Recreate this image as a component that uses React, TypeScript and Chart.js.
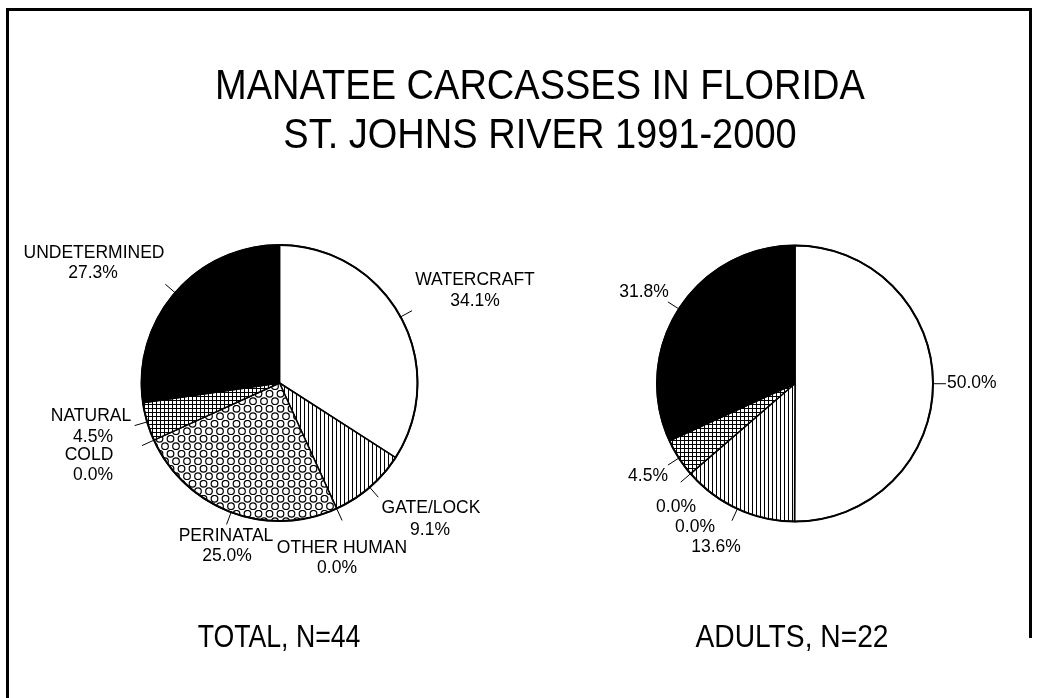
import React, { useEffect, useRef } from 'react';
import { Chart, registerables } from 'chart.js';

Chart.register(...registerables);

const W = 1039;
const H = 698;

const categories = ['WATERCRAFT', 'GATE/LOCK', 'OTHER HUMAN', 'PERINATAL', 'COLD', 'NATURAL', 'UNDETERMINED'];
const totalValues = [34.1, 9.1, 0.0, 25.0, 0.0, 4.5, 27.3];
const adultValues = [50.0, 13.6, 0.0, 0.0, 0.0, 4.5, 31.8];
const titleLines = ['MANATEE CARCASSES IN FLORIDA', 'ST. JOHNS RIVER 1991-2000'];
const totalCaption = 'TOTAL, N=44';
const adultCaption = 'ADULTS, N=22';

// layout (positions, not data)
const LEFT_PIE = { cx: 279.5, cy: 383, r: 138 };
const RIGHT_PIE = { cx: 795, cy: 383.5, r: 138 };
const FONT = '"Liberation Sans", Arial, Helvetica, sans-serif';

// label anchor positions per category index: [centerX, baseline]
const leftLabelPos: Record<number, [number, number]> = {
  0: [475, 285],
  1: [431, 513],
  2: [342, 553],
  3: [226, 541],
  4: [89, 460],
  5: [91, 421],
  6: [94, 258],
};
const leftPctPos: Record<number, [number, number]> = {
  0: [475, 306],
  1: [430, 535],
  2: [337, 573],
  3: [227, 561],
  4: [93, 480],
  5: [93, 442],
  6: [93, 278],
};
const rightPctPos: Record<number, [number, number, CanvasTextAlign]> = {
  0: [947, 388, 'left'],
  1: [716, 552, 'center'],
  3: [695, 532, 'center'],
  4: [676, 512, 'center'],
  5: [648, 481, 'center'],
  6: [644, 297, 'center'],
};
const leftLeaders = [0, 1, 2, 3, 4, 5, 6];
const rightLeaders = [0, 1, 4, 5, 6];

function makePattern(kind: string): CanvasPattern | string {
  const c = document.createElement('canvas');
  const g = c.getContext('2d')!;
  if (kind === 'vlines') {
    c.width = 4; c.height = 4;
    g.fillStyle = '#fff'; g.fillRect(0, 0, 4, 4);
    g.fillStyle = '#000'; g.fillRect(0, 0, 1, 4);
  } else if (kind === 'grid') {
    c.width = 4; c.height = 4;
    g.fillStyle = '#fff'; g.fillRect(0, 0, 4, 4);
    g.fillStyle = '#000'; g.fillRect(0, 0, 1, 4); g.fillRect(0, 0, 4, 1);
  } else if (kind === 'circles') {
    c.width = 11; c.height = 15;
    g.fillStyle = '#fff'; g.fillRect(0, 0, 11, 15);
    g.strokeStyle = '#000'; g.lineWidth = 1.2;
    const pts = [[5.5, 3.75], [0, 11.25], [11, 11.25]];
    for (const [x, y] of pts) {
      g.beginPath(); g.arc(x, y, 3.3, 0, Math.PI * 2); g.stroke();
    }
  } else {
    return kind;
  }
  return g.createPattern(c, 'repeat')!;
}

function drawText(ctx: CanvasRenderingContext2D, text: string, x: number, y: number, size: number, align: CanvasTextAlign = 'center', sx = 1) {
  ctx.save();
  ctx.font = `${size}px ${FONT}`;
  ctx.fillStyle = '#000';
  ctx.textBaseline = 'alphabetic';
  ctx.textAlign = align;
  ctx.translate(x, y);
  ctx.scale(sx, 1);
  ctx.fillText(text, 0, 0);
  ctx.restore();
}

function drawLeaders(chart: any, indices: number[]) {
  const ctx: CanvasRenderingContext2D = chart.ctx;
  const meta = chart.getDatasetMeta(0);
  ctx.save();
  ctx.strokeStyle = '#000';
  ctx.lineWidth = 1;
  for (const i of indices) {
    const arc = meta.data[i] as any;
    const { x, y, startAngle, endAngle, outerRadius } = arc;
    const a = endAngle > startAngle ? (startAngle + endAngle) / 2 : startAngle;
    ctx.beginPath();
    ctx.moveTo(x + Math.cos(a) * (outerRadius - 1), y + Math.sin(a) * (outerRadius - 1));
    ctx.lineTo(x + Math.cos(a) * (outerRadius + 13), y + Math.sin(a) * (outerRadius + 13));
    ctx.stroke();
  }
  const a0 = meta.data[0] as any;
  ctx.lineWidth = 2;
  ctx.beginPath();
  ctx.arc(a0.x, a0.y, a0.outerRadius, 0, Math.PI * 2);
  ctx.stroke();
  ctx.restore();
}

function padFor(p: { cx: number; cy: number; r: number }) {
  const half = p.r + 0.75;
  return { left: p.cx - half, right: W - p.cx - half, top: p.cy - half, bottom: H - p.cy - half };
}

export default function App() {
  const leftRef = useRef<HTMLCanvasElement>(null);
  const rightRef = useRef<HTMLCanvasElement>(null);

  useEffect(() => {
    const fills = [
      '#ffffff',
      makePattern('vlines'),
      '#ffffff',
      makePattern('circles'),
      '#ffffff',
      makePattern('grid'),
      '#000000',
    ];

    const pageDecor = {
      id: 'pageDecor',
      afterDraw(chart: any) {
        const ctx: CanvasRenderingContext2D = chart.ctx;
        ctx.save();
        ctx.fillStyle = '#000';
        ctx.fillRect(6, 8, 3, H - 8);
        ctx.fillRect(6, 8, 1026, 3);
        ctx.fillRect(1029, 8, 3, 630);
        ctx.restore();
        drawText(ctx, titleLines[0], 540, 99, 42, 'center', 0.905);
        drawText(ctx, titleLines[1], 540, 148, 42, 'center', 0.905);
        drawText(ctx, totalCaption, 279, 647, 31, 'center', 0.86);
        drawText(ctx, adultCaption, 792, 647, 31, 'center', 0.91);
        drawLeaders(chart, leftLeaders);
        const vals = chart.data.datasets[0].data as number[];
        for (let i = 0; i < categories.length; i++) {
          const lp = leftLabelPos[i];
          const pp = leftPctPos[i];
          if (lp) drawText(ctx, categories[i], lp[0], lp[1], 17.5);
          if (pp) drawText(ctx, `${vals[i].toFixed(1)}%`, pp[0], pp[1], 17.5);
        }
      },
    };

    const rightDecor = {
      id: 'rightDecor',
      afterDraw(chart: any) {
        const ctx: CanvasRenderingContext2D = chart.ctx;
        drawLeaders(chart, rightLeaders);
        const vals = chart.data.datasets[0].data as number[];
        for (let i = 0; i < categories.length; i++) {
          const pp = rightPctPos[i];
          if (pp) drawText(ctx, `${vals[i].toFixed(1)}%`, pp[0], pp[1], 17.5, pp[2]);
        }
      },
    };

    const mk = (canvas: HTMLCanvasElement, values: number[], pie: any, plugin: any) =>
      new Chart(canvas, {
        type: 'pie',
        data: {
          labels: categories,
          datasets: [{
            data: values,
            backgroundColor: fills as any,
            borderColor: '#000',
            borderWidth: 1.5,
          }],
        },
        options: {
          responsive: false,
          animation: false,
          events: [],
          layout: { padding: padFor(pie) },
          plugins: { legend: { display: false }, tooltip: { enabled: false }, title: { display: false } },
        },
        plugins: [plugin],
      });

    const c1 = mk(leftRef.current!, totalValues, LEFT_PIE, pageDecor);
    const c2 = mk(rightRef.current!, adultValues, RIGHT_PIE, rightDecor);
    return () => { c1.destroy(); c2.destroy(); };
  }, []);

  const style: React.CSSProperties = { position: 'absolute', left: 0, top: 0, width: W, height: H };
  return (
    <div style={{ position: 'fixed', left: 0, top: 0, width: W, height: H, background: '#fff' }}>
      <canvas ref={leftRef} width={W} height={H} style={style} />
      <canvas ref={rightRef} width={W} height={H} style={style} />
    </div>
  );
}
